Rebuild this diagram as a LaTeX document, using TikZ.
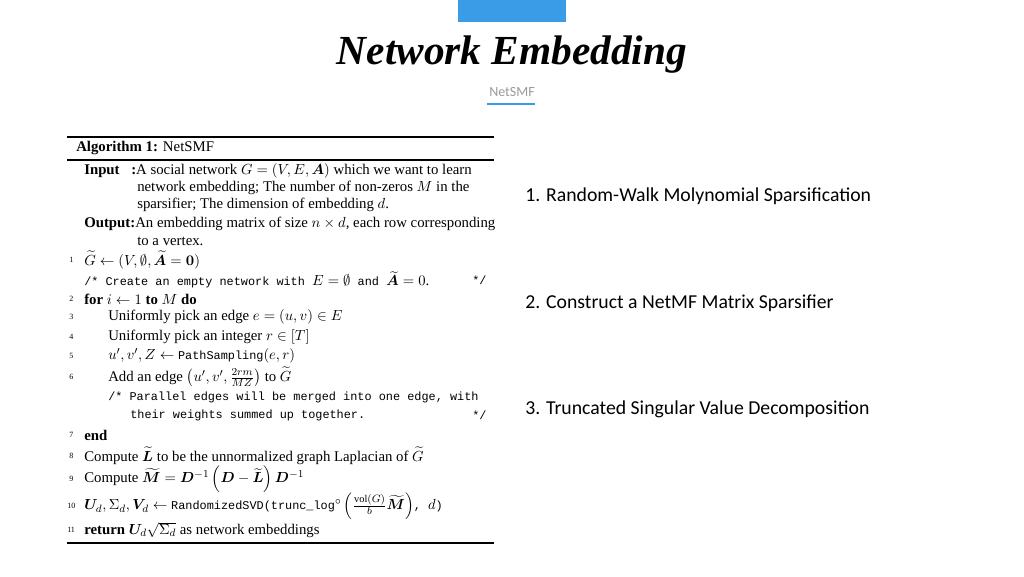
\documentclass[tikz,border=0pt]{standalone}
\usepackage{amsmath,amssymb,bm}
\usepackage{fontspec}
\setmainfont{Liberation Serif}
\setmonofont{Liberation Mono}
\newfontfamily\slidefont{Carlito}
\definecolor{accent}{HTML}{3A9BE6}
\definecolor{graytxt}{HTML}{9A9A9A}
\tikzset{alg/.style={anchor=west,inner sep=0pt,font=\fontsize{11.1}{12}\selectfont},
 num/.style={anchor=west,inner sep=0pt,font=\fontsize{6}{7}\selectfont},
 item/.style={anchor=west,inner sep=0pt,font=\slidefont\fontsize{14.8}{17}\selectfont}}
\newcommand{\kw}[1]{\textbf{#1}}
\newcommand{\cm}[1]{{\ttfamily\fontsize{8.9}{10}\selectfont #1}}
\begin{document}
\begin{tikzpicture}[x=0.75pt,y=-0.75pt]
\useasboundingbox (0,0) rectangle (1024,576);
\fill[accent] (458,0) rectangle (566,22);
\node[inner sep=0pt,font=\fontsize{31}{34}\selectfont\bfseries\itshape] (title) at (512,55) {Network Embedding};
\node[inner sep=0pt,text=graytxt,font=\slidefont\fontsize{10.5}{12}\selectfont] (sub) at (512,92) {NetSMF};
\draw[accent,line width=2pt] (487,104) -- (535,104);
% algorithm
\draw[line width=1.2pt] (67,137) -- (494,137);
\draw[line width=0.8pt] (67,160) -- (494,160);
\draw[line width=1.2pt] (67,543) -- (494,543);
\node[alg] (h) at (76,148) {\kw{Algorithm 1:} NetSMF};
\node[alg] (in) at (84,171) {\kw{Input}};
\node[alg] (inc) at (131,171) {\kw{:}A social network $G=(V,E,\bm{A})$ which we want to learn};
\node[alg] (in2) at (137,188) {network embedding; The number of non-zeros $M$ in the};
\node[alg] (in3) at (137,205) {sparsifier; The dimension of embedding $d$.};
\node[alg] (out) at (84,224) {\kw{Output:}An embedding matrix of size $n\times d$, each row corresponding};
\node[alg] (out2) at (137,241) {to a vertex.};
\node[num] (n1) at (69,260) {1};
\node[alg] (l1) at (84,260) {$\widetilde{G}\leftarrow(V,\emptyset,\widetilde{\bm{A}}=\bm{0})$};
\node[alg] (c1) at (84,280) {\cm{/* Create an empty network with }$E=\emptyset$\cm{ and }$\widetilde{\bm A}=0$.};
\node[alg] (c1e) at (472,280) {\cm{*/}};
\node[num] (n2) at (69,299) {2};
\node[alg] (l2) at (84,299) {\kw{for} $i\leftarrow1$ \kw{to} $M$ \kw{do}};
\node[num] (n3) at (69,317) {3};
\node[alg] (l3) at (108,317) {Uniformly pick an edge $e=(u,v)\in E$};
\node[num] (n4) at (69,337) {4};
\node[alg] (l4) at (108,337) {Uniformly pick an integer $r\in[T]$};
\node[num] (n5) at (69,356) {5};
\node[alg] (l5) at (108,356) {$u',v',Z\leftarrow$ \cm{PathSampling}$(e,r)$};
\node[num] (n6) at (69,377) {6};
\node[alg] (l6) at (108,377) {Add an edge $\left(u',v',\frac{2rm}{MZ}\right)$ to $\widetilde{G}$};
\node[alg] (c2) at (108,397) {\cm{/* Parallel edges will be merged into one edge, with}};
\node[alg] (c3) at (130,415) {\cm{their weights summed up together.}};
\node[alg] (c3e) at (472,415) {\cm{*/}};
\node[num] (n7) at (69,435) {7};
\node[alg] (l7) at (84,435) {\kw{end}};
\node[num] (n8) at (69,456) {8};
\node[alg] (l8) at (84,456) {Compute $\widetilde{\bm L}$ to be the unnormalized graph Laplacian of $\widetilde{G}$};
\node[num] (n9) at (69,479) {9};
\node[alg] (l9) at (84,479) {Compute $\widetilde{\bm M}=\bm D^{-1}\left(\bm D-\widetilde{\bm L}\right)\bm D^{-1}$};
\node[num] (n10) at (67,506) {10};
\node[alg] (l10) at (84,506) {$\bm U_d,\Sigma_d,\bm V_d\leftarrow$ \cm{RandomizedSVD(trunc\_log}$^\circ\left(\frac{\mathrm{vol}(G)}{b}\widetilde{\bm M}\right)$\cm{, }$d$\cm{)}};
\node[num] (n11) at (67,530) {11};
\node[alg] (l11) at (84,530) {\kw{return} $\bm U_d\sqrt{\Sigma_d}$ as network embeddings};
% right items
\node[item] (s1) at (525,196) {1. Random-Walk Molynomial Sparsification};
\node[item] (s2) at (525,303) {2. Construct a NetMF Matrix Sparsifier};
\node[item] (s3) at (525,409) {3. Truncated Singular Value Decomposition};
\end{tikzpicture}
\end{document}
